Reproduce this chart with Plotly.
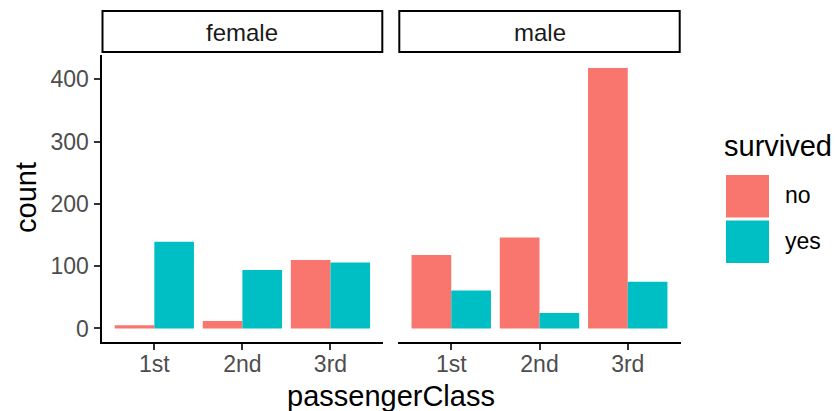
import plotly.graph_objects as go

# Passenger counts by class, split by sex and survival
classes = ["1st", "2nd", "3rd"]
sexes = ["female", "male"]
female_no = [5, 12, 110]
female_yes = [139, 94, 106]
male_no = [118, 146, 418]
male_yes = [61, 25, 75]
survived_levels = ["no", "yes"]
fill_colors = {"no": "#F8766D", "yes": "#00BFC4"}
y_ticks = [0, 100, 200, 300, 400]

W, H = 835, 411
FONT = "Liberation Sans"


def px_x(v):
    return v / W


def px_y(v):
    return 1 - v / H


panel_x = {"female": (101.5, 383.3), "male": (398.3, 680.7)}
panel_top, panel_bottom = 55.0, 341.5

counts = {
    ("female", "no"): female_no,
    ("female", "yes"): female_yes,
    ("male", "no"): male_no,
    ("male", "yes"): male_yes,
}

fig = go.Figure()
for i, sex in enumerate(sexes):
    xa = "x" if i == 0 else "x2"
    ya = "y" if i == 0 else "y2"
    for lvl in survived_levels:
        fig.add_trace(go.Bar(
            x=classes, y=counts[(sex, lvl)], name=lvl,
            marker=dict(color=fill_colors[lvl], line=dict(width=0)),
            offsetgroup=lvl, xaxis=xa, yaxis=ya, showlegend=False,
            hoverinfo="x+y+name",
        ))

y_range = [-20.9, 438.9]
x_range = [-0.6, 2.6]
tick_font = dict(family=FONT, size=23, color="#4D4D4D")

common_x = dict(
    type="category", range=x_range, showline=True, linecolor="black",
    linewidth=2, ticks="outside", ticklen=6, tickwidth=2, tickcolor="#333333",
    tickfont=tick_font, showgrid=False, zeroline=False, fixedrange=True,
    ticklabelstandoff=-5,
)

fig.update_layout(
    width=W, height=H,
    margin=dict(l=0, r=0, t=0, b=0),
    paper_bgcolor="white", plot_bgcolor="white",
    barmode="group", bargap=0.1, bargroupgap=0,
    showlegend=False,
    xaxis=dict(common_x, domain=[px_x(panel_x["female"][0]), px_x(panel_x["female"][1])], anchor="y"),
    xaxis2=dict(common_x, domain=[px_x(panel_x["male"][0]), px_x(panel_x["male"][1])], anchor="y2"),
    yaxis=dict(
        range=y_range, domain=[px_y(panel_bottom), px_y(panel_top)],
        showline=True, linecolor="black", linewidth=2, ticks="outside",
        ticklen=6, tickwidth=2, tickcolor="#333333", tickvals=y_ticks,
        tickfont=tick_font, showgrid=False, zeroline=False, anchor="x",
        ticklabelstandoff=0,
    ),
    yaxis2=dict(
        range=y_range, domain=[px_y(panel_bottom), px_y(panel_top)],
        showline=False, ticks="", showticklabels=False, showgrid=False,
        zeroline=False, anchor="x2", matches="y",
    ),
)

shapes = []
annotations = []

# Facet strips
for sex in sexes:
    x0, x1 = panel_x[sex]
    shapes.append(dict(
        type="rect", xref="paper", yref="paper",
        x0=px_x(x0 + 1), x1=px_x(x1 - 1), y0=px_y(52), y1=px_y(11),
        line=dict(color="black", width=2), fillcolor="white", layer="below",
    ))
    annotations.append(dict(
        text=sex, xref="paper", yref="paper", x=px_x((x0 + x1) / 2), y=px_y(32),
        xanchor="center", yanchor="middle", showarrow=False,
        font=dict(family=FONT, size=24, color="#1A1A1A"),
    ))

# Axis titles
annotations.append(dict(
    text="passengerClass", xref="paper", yref="paper",
    x=px_x((panel_x["female"][0] + panel_x["male"][1]) / 2), y=px_y(396),
    xanchor="center", yanchor="middle", showarrow=False,
    font=dict(family=FONT, size=29, color="black"),
))
annotations.append(dict(
    text="count", xref="paper", yref="paper", x=px_x(26), y=px_y(198),
    xanchor="center", yanchor="middle", showarrow=False, textangle=-90,
    font=dict(family=FONT, size=29, color="black"),
))

# Legend
annotations.append(dict(
    text="survived", xref="paper", yref="paper", x=px_x(722), y=px_y(146),
    xanchor="left", yanchor="middle", showarrow=False,
    font=dict(family=FONT, size=29, color="black"),
))
key_tops = [175, 220.5]
for lvl, top in zip(survived_levels, key_tops):
    shapes.append(dict(
        type="rect", xref="paper", yref="paper",
        x0=px_x(726), x1=px_x(769), y0=px_y(top + 42.5), y1=px_y(top),
        line=dict(width=0), fillcolor=fill_colors[lvl],
    ))
    annotations.append(dict(
        text=lvl, xref="paper", yref="paper", x=px_x(783), y=px_y(top + 20),
        xanchor="left", yanchor="middle", showarrow=False,
        font=dict(family=FONT, size=23, color="black"),
    ))

fig.update_layout(shapes=shapes, annotations=annotations)
fig.write_html("out.html")
